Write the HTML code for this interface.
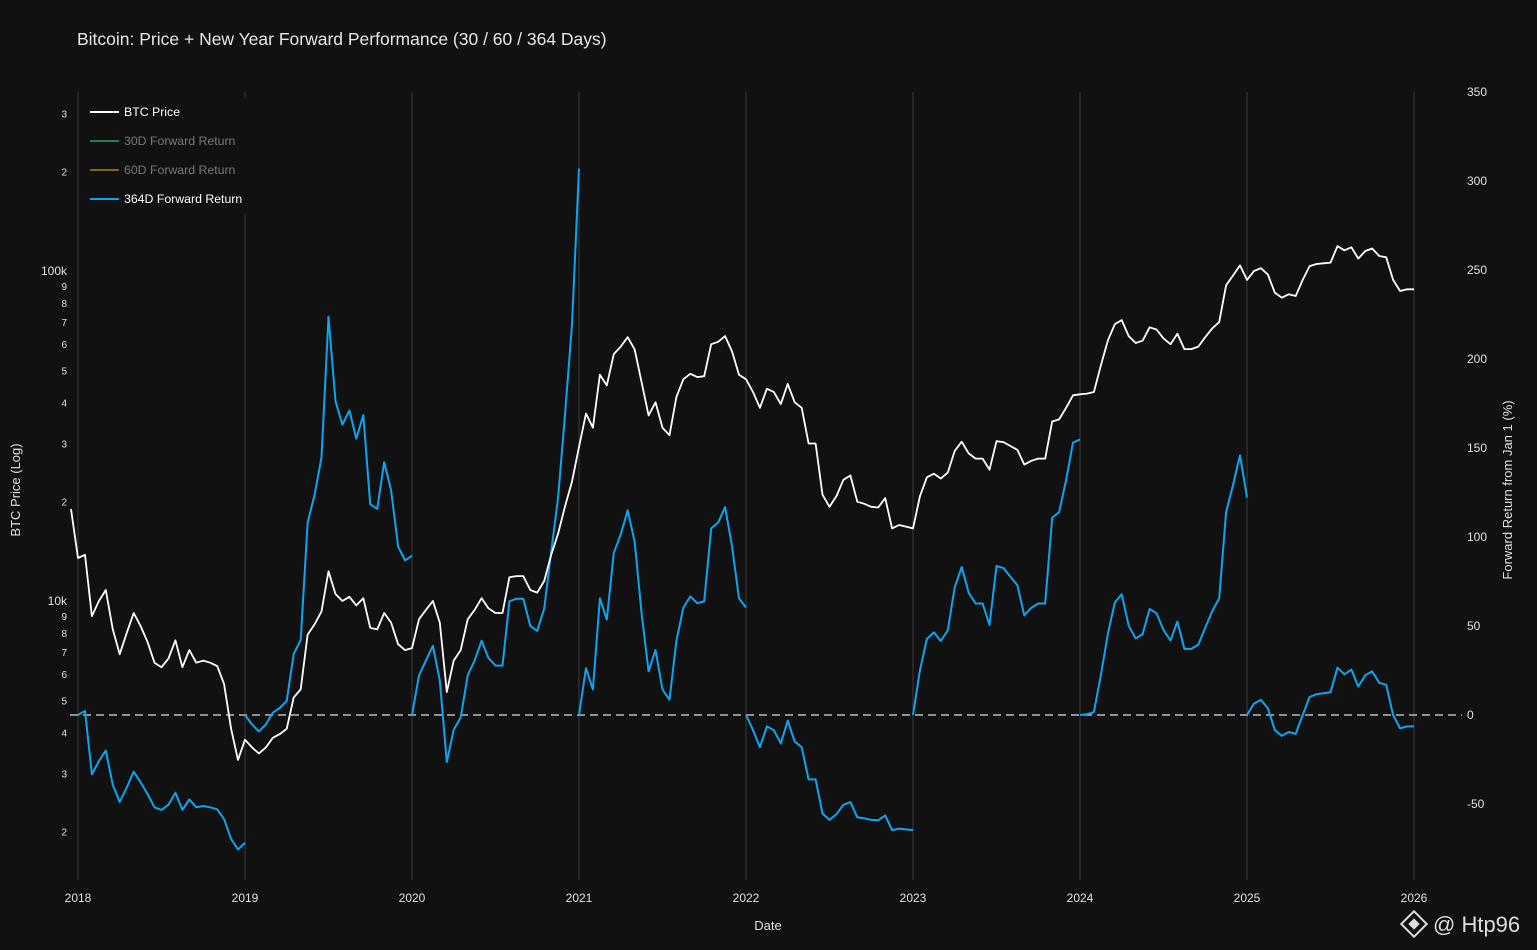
<!DOCTYPE html>
<html><head><meta charset="utf-8">
<style>
html,body{margin:0;padding:0;background:#111111;}
svg{display:block;font-family:"Liberation Sans",sans-serif;}
</style></head>
<body>
<svg id="chart" width="1537" height="950" viewBox="0 0 1537 950" xmlns="http://www.w3.org/2000/svg">
<rect width="1537" height="950" fill="#111111"/>
<text x="77" y="45" fill="#e6e6e6" font-size="17.5">Bitcoin: Price + New Year Forward Performance (30 / 60 / 364 Days)</text>
<g id="grid"></g>
<g id="series"></g>
<g id="axes"></g>
<g>
<rect x="82" y="98" width="170" height="116" fill="#111111"/>
<g><line x1="90" y1="112" x2="119" y2="112" stroke="#ffffff" stroke-width="2"/><text x="124" y="116" fill="#ffffff" font-size="12.3">BTC Price</text></g>
<g><line x1="90" y1="141" x2="119" y2="141" stroke="#1e7f55" stroke-width="2"/><text x="124" y="145" fill="#777777" font-size="12.3">30D Forward Return</text></g>
<g><line x1="90" y1="170" x2="119" y2="170" stroke="#7a6428" stroke-width="2"/><text x="124" y="174" fill="#777777" font-size="12.3">60D Forward Return</text></g>
<g><line x1="90" y1="199" x2="119" y2="199" stroke="#0ea5f0" stroke-width="2"/><text x="124" y="203" fill="#ffffff" font-size="12.3">364D Forward Return</text></g>
</g>
<text x="768" y="930" fill="#e0e0e0" font-size="13" text-anchor="middle">Date</text>
<text transform="translate(20,490) rotate(-90)" fill="#e0e0e0" font-size="13" text-anchor="middle">BTC Price (Log)</text>
<text transform="translate(1512,490) rotate(-90)" fill="#e0e0e0" font-size="13" text-anchor="middle">Forward Return from Jan 1 (%)</text>
<g>
<g transform="translate(1414,924) rotate(45)" fill="none" stroke="#dddddd" stroke-width="2"><rect x="-9" y="-9" width="18" height="18"/><rect x="-3" y="-3" width="6" height="6" fill="#dddddd"/></g>
<text x="1433" y="932" fill="#dddddd" font-size="22">@ Htp96</text>
</g>
</svg>
<script>
const yearTicks = [2018,2019,2020,2021,2022,2023,2024,2025,2026];
const rightTicks = [-50,0,50,100,150,200,250,300,350];
const leftTicks = [2000,3000,4000,5000,6000,7000,8000,9000,10000,20000,30000,40000,50000,60000,70000,80000,90000,100000,200000,300000];
const leftTickLabels = ["2","3","4","5","6","7","8","9","10k","2","3","4","5","6","7","8","9","100k","2","3"];
const startYear = 2017.9583;
const pricesPerYear = 24;
const btcPrice = [19000,
13500,13800,9000,10000,10800,8200,6900,8000,9200,8400,7500,6500,6300,6700,7600,6300,7100,6500,6600,6500,6350,5600,4100,3300,
3800,3600,3450,3600,3850,3950,4100,5100,5400,7900,8500,9300,12300,10500,10000,10300,9700,10200,8300,8200,9200,8600,7400,7100,
7200,8800,9400,10000,8600,5300,6600,7100,8800,9400,10200,9500,9200,9200,11800,11900,11900,10800,10600,11500,13800,16000,19400,23000,
29300,37000,33500,48500,45000,56000,59000,63000,57800,46000,36500,40000,33500,31800,41500,47000,48800,47700,48000,60000,61000,63500,57000,48500,
47000,43000,38500,44000,43000,39500,45500,40000,38500,30000,30000,21000,19300,20800,23300,24000,20000,19700,19300,19200,20500,16600,17000,16800,
16600,20800,23700,24300,23500,24500,28500,30400,28000,27000,27000,25000,30500,30300,29500,28700,25900,26600,27000,27000,35000,35500,38500,42000,
42300,42500,43000,51800,61500,69000,71000,63500,60500,61500,67500,66500,62500,60000,64500,58000,58000,59000,63000,67000,70000,90500,97000,104000,
94000,100000,102000,97500,86000,83000,85000,84000,94000,103500,105000,105500,106000,119000,115500,118000,109000,115000,117000,111000,110000,94000,87000,88000,
88000];

const NS="http://www.w3.org/2000/svg";
const X0=78, PXY=167, TOP=92, BOT=880, LEFT=70, RIGHT=1420;
function xOf(yr){return X0+(yr-2018)*PXY;}
function yPrice(p){return 601-(Math.log10(p)-4)*330;}
function yRet(r){return 715-r*1.78;}
function mk(tag,attrs,parent){const e=document.createElementNS(NS,tag);for(const k in attrs)e.setAttribute(k,attrs[k]);parent.appendChild(e);return e;}
const grid=document.getElementById('grid'), axes=document.getElementById('axes'), series=document.getElementById('series');
yearTicks.forEach(y=>{
  const l=mk('line',{x1:xOf(y),x2:xOf(y),y1:TOP,y2:BOT,stroke:'#3a3a3a','stroke-width':1},grid);
  
  
  const t=mk('text',{x:xOf(y),y:902,fill:'#e0e0e0','font-size':12,'text-anchor':'middle'},axes);
  t.textContent=y;
  
  
});
rightTicks.forEach(v=>{
  const t=mk('text',{x:1467,y:yRet(v)+4,fill:'#e0e0e0','font-size':12,'text-anchor':'start'},axes);
  t.textContent=v;
  
  
});
leftTicks.forEach((v,i)=>{
  const big=leftTickLabels[i].length>1;
  const t=mk('text',{x:67,y:yPrice(v)+4,fill:'#e0e0e0','font-size':big?12:10,'text-anchor':'end'},axes);
  t.textContent=leftTickLabels[i];
  
  
});
const zl=mk('line',{x1:LEFT,x2:1462,y1:yRet(0),y2:yRet(0),stroke:'#bbbbbb','stroke-width':1.5,'stroke-dasharray':'8,5'},grid);


for(let y=2018;y<=2025;y++){
  const s=(y-2018)*pricesPerYear+1, e=s+pricesPerYear;
  const base=btcPrice[s]; let d='';
  for(let i=s;i<=e&&i<btcPrice.length;i++){
    const r=(btcPrice[i]/base-1)*100;
    d+=(i===s?'M':'L')+xOf(startYear+i/pricesPerYear).toFixed(1)+','+yRet(r).toFixed(1);
  }
  const p=mk('path',{d:d,fill:'none',stroke:'#0ea5f0','stroke-width':2,'stroke-linejoin':'round'},series);
  
  
}
let d='';
btcPrice.forEach((p,i)=>{d+=(i?'L':'M')+xOf(startYear+i/pricesPerYear).toFixed(1)+','+yPrice(p).toFixed(1);});
const pl=mk('path',{d:d,fill:'none',stroke:'#ffffff','stroke-width':1.8,'stroke-linejoin':'round'},series);


</script>
</body></html>
